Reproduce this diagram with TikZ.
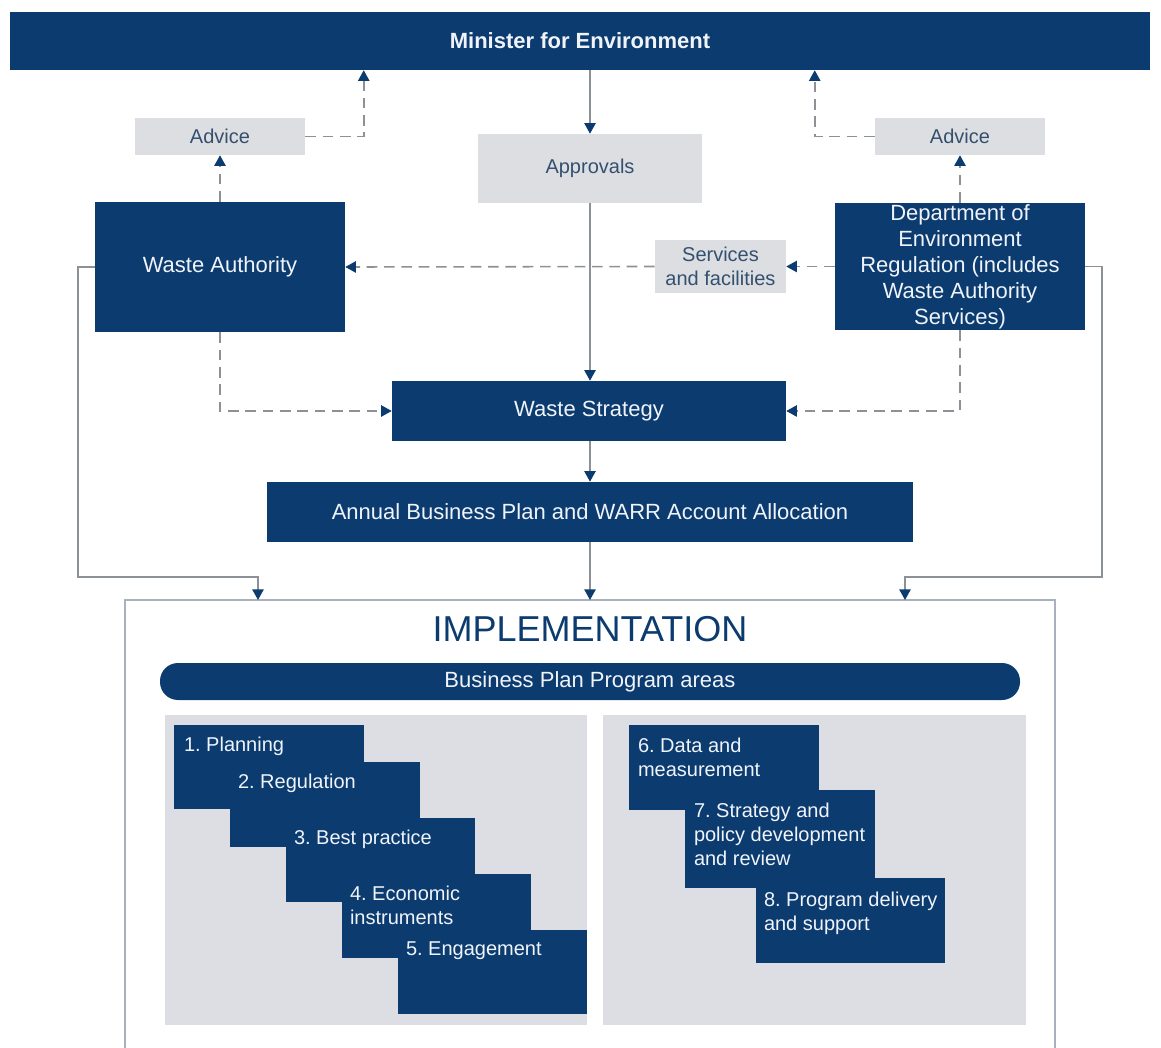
\documentclass[tikz,border=0pt]{standalone}
\usepackage{fontspec}
\setmainfont{Liberation Sans}
\usetikzlibrary{arrows.meta,calc}
\definecolor{navyc}{HTML}{0B3B6F}
\definecolor{boxg}{HTML}{DCDEE2}
\definecolor{panelg}{HTML}{DDDEE3}
\definecolor{lineg}{HTML}{8C9196}
\definecolor{txtn}{HTML}{34506F}
\definecolor{txtw}{HTML}{F0F4FA}
\definecolor{framec}{HTML}{A8B2BE}
\tikzset{
  every node/.style={font=\frenchspacing\fontsize{15}{19.5}\selectfont},
  rect/.style n args={4}{minimum width={(#3-#1)*0.75pt}, minimum height={(#4-#2)*0.75pt}, at={({(#1+#3)/2},{(#2+#4)/2})}},
  navybox/.style={fill=navyc, draw=none, inner sep=0pt, text=txtw, align=center, font=\frenchspacing\fontsize{16.5}{19.5}\selectfont},
  graybox/.style={fill=boxg, draw=none, inner sep=0pt, text=txtn, align=center},
  panel/.style={fill=panelg, draw=none, inner sep=0pt},
  cardbox/.style={fill=navyc, draw=none, inner sep=0pt},
  cardtext/.style={anchor=north west, inner sep=0pt, text=txtw, align=left, font=\frenchspacing\fontsize{15}{18}\selectfont},
  solidarr/.style={draw=lineg, line width=1.2pt, -{Triangle[width=8.5pt,length=8pt,color=navyc]}},
  dasharr/.style={draw=lineg, line width=1.2pt, dash pattern=on 8pt off 5pt, -{Triangle[width=8.5pt,length=8pt,color=navyc]}},
}
\begin{document}
\begin{tikzpicture}[x=0.75pt,y=-0.75pt]
\useasboundingbox (0,0) rectangle (1161,1048);

% top bar
\node[navybox, rect={10}{12}{1150}{70}, font=\bfseries\fontsize{16.5}{20}\selectfont] (mini) {Minister for Environment};

% gray boxes
\node[graybox, rect={135}{118}{305}{155}] (advL) {Advice};
\node[graybox, rect={875}{118}{1045}{155}] (advR) {Advice};
\node[graybox, rect={478}{134}{702}{203}] (appr) {Approvals};
\node[graybox, rect={655}{240}{786}{293}, font=\frenchspacing\fontsize{15}{18}\selectfont] (serv) {Services\\and facilities};

% navy boxes
\node[navybox, rect={95}{202}{345}{332}] (wa) {Waste Authority};
\node[navybox, rect={835}{203}{1085}{330}] (dept) {Department of\\Environment\\Regulation (includes\\Waste Authority\\Services)};
\node[navybox, rect={392}{381}{786}{441}] (ws) {Waste Strategy};
\node[navybox, rect={267}{482}{913}{542}] (abp) {Annual Business Plan and WARR Account Allocation};

% implementation frame
\draw[framec, line width=1.5pt] (125,1060) -- (125,600) -- (1055,600) -- (1055,1060);
\coordinate (implL) at (258,600);
\coordinate (implC) at (590,600);
\coordinate (implR) at (905,600);
\node[text=navyc, font=\fontsize{27}{30}\selectfont, inner sep=0pt] (impl) at (590,629) {IMPLEMENTATION};
\node[navybox, rounded corners=13.5pt, rect={160}{663}{1020}{700}] (pill) {Business Plan Program areas};

% panels
\node[panel, rect={165}{715}{587}{1025}] (panL) {};
\node[panel, rect={603}{715}{1026}{1025}] (panR) {};

% left cards
\node[cardbox, rect={174}{725}{364}{809}] (c1) {};
\node[cardtext] (c1t) at ($(c1.north west)+(10,12)$) {1. Planning};
\node[cardbox, rect={230}{762}{420}{847}] (c2) {};
\node[cardtext] (c2t) at ($(c2.north west)+(8,12)$) {2. Regulation};
\node[cardbox, rect={286}{818}{475}{902}] (c3) {};
\node[cardtext] (c3t) at ($(c3.north west)+(8,12)$) {3. Best practice};
\node[cardbox, rect={342}{874}{531}{958}] (c4) {};
\node[cardtext] (c4t) at ($(c4.north west)+(8,12)$) {4. Economic\\instruments};
\node[cardbox, rect={398}{930}{587}{1014}] (c5) {};
\node[cardtext] (c5t) at ($(c5.north west)+(8,12)$) {5. Engagement};

% right cards
\node[cardbox, rect={629}{725}{819}{810}] (c6) {};
\node[cardtext] (c6t) at ($(c6.north west)+(9,13)$) {6. Data and\\measurement};
\node[cardbox, rect={685}{790}{875}{888}] (c7) {};
\node[cardtext] (c7t) at ($(c7.north west)+(9,13)$) {7. Strategy and\\policy development\\and review};
\node[cardbox, rect={756}{878}{945}{963}] (c8) {};
\node[cardtext] (c8t) at ($(c8.north west)+(8,14)$) {8. Program delivery\\and support};

% solid flow
\draw[solidarr] (appr.north |- mini.south) -- (appr.north);
\draw[solidarr] (appr.south) -- (ws.north -| appr.south);
\draw[solidarr] (ws.south -| abp.north) -- (abp.north);
\draw[solidarr] (abp.south) -- (implC);

% advice
\draw[dasharr] (wa.north) -- (advL.south);
\draw[dasharr] (advL.east) -| ($(mini.south west)+(354,0)$);
\draw[dasharr] (dept.north) -- (advR.south);
\draw[dasharr] (advR.west) -| ($(mini.south west)+(805,0)$);

% services
\draw[dasharr] (dept.west) -- (serv.east);
\draw[dasharr] (serv.west) -- (wa.east);

% to strategy
\draw[dasharr] (wa.south) |- (ws.west);
\draw[dasharr] (dept.south) |- (ws.east);

% side feeds to implementation
\coordinate (kL) at (258,577);
\coordinate (kR) at (905,577);
\draw[solidarr] (wa.west) -- ++(-17,0) |- (kL) -- (implL);
\draw[solidarr] (dept.east) -- ++(17,0) |- (kR) -- (implR);
\end{tikzpicture}
\end{document}
